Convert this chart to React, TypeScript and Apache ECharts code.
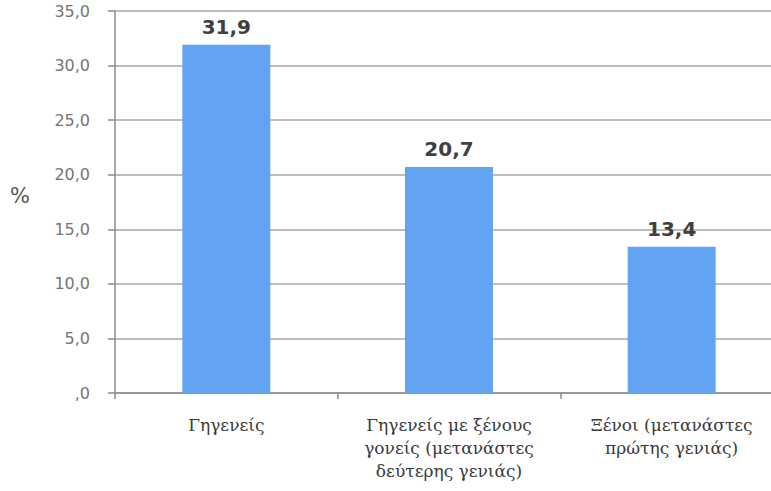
import React, { useEffect, useRef } from "react";
import * as echarts from "echarts";

const categories = [
  "Γηγενείς",
  "Γηγενείς με ξένους\nγονείς (μετανάστες\nδεύτερης γενιάς)",
  "Ξένοι (μετανάστες\nπρώτης γενιάς)",
];
const values = [31.9, 20.7, 13.4];
const yMin = 0;
const yMax = 35;
const yInterval = 5;
const yAxisName = "%";

export default function App() {
  const ref = useRef<HTMLDivElement>(null);
  useEffect(() => {
    if (!ref.current) return;
    const chart = echarts.init(ref.current, undefined, { renderer: "svg" });
    chart.setOption({
      animation: false,
      grid: {
        left: 115,
        width: 668,
        top: 11,
        bottom: 98,
        containLabel: false,
        outerBoundsMode: "none",
      },
      graphic: [
        {
          type: "text",
          left: 10,
          top: 185,
          style: {
            text: yAxisName,
            fontFamily: "DejaVu Sans",
            fontSize: 21,
            fill: "#555",
          },
        },
      ],
      xAxis: {
        type: "category",
        data: categories,
        axisLine: { show: true, lineStyle: { color: "#8c8c8c", width: 1.5 } },
        axisTick: { show: true, length: 6, lineStyle: { color: "#8c8c8c", width: 1.5 } },
        axisLabel: {
          interval: 0,
          margin: 20,
          fontFamily: "DejaVu Serif",
          fontSize: 17,
          lineHeight: 23,
          color: "#3a3a3a",
        },
      },
      yAxis: {
        type: "value",
        min: yMin,
        max: yMax,
        interval: yInterval,
        axisLine: { show: true, lineStyle: { color: "#8c8c8c", width: 1.5 } },
        axisTick: { show: true, length: 7, lineStyle: { color: "#8c8c8c", width: 1.5 } },
        splitLine: { show: true, lineStyle: { color: "#a8a8a8", width: 1.5 } },
        axisLabel: {
          margin: 25,
          fontFamily: "DejaVu Sans",
          fontSize: 16,
          color: "#757575",
          formatter: (v: number) => (v === 0 ? ",0" : v.toFixed(1).replace(".", ",")),
        },
      },
      series: [
        {
          type: "bar",
          data: values,
          barWidth: 88,
          itemStyle: { color: "#62a3f2" },
          label: {
            show: true,
            position: "top",
            distance: 8,
            fontFamily: "DejaVu Sans",
            fontWeight: "bold",
            fontSize: 20,
            color: "#404040",
            formatter: (p: any) => String(p.value).replace(".", ","),
          },
        },
      ],
    });
    return () => chart.dispose();
  }, []);
  return (
    <div
      ref={ref}
      style={{ position: "fixed", left: 0, top: 0, width: 771, height: 491, background: "#fff" }}
    />
  );
}
